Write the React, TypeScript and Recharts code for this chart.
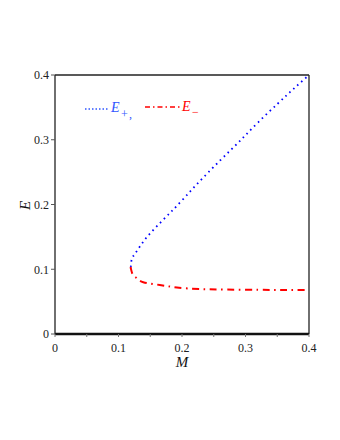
import React from 'react';
import { LineChart, Line, XAxis, YAxis, ReferenceLine } from 'recharts';

// E+ branch (blue dotted), parametric: M values and E values
const ePlusM = [0.119, 0.1197, 0.121, 0.126, 0.135, 0.145, 0.157, 0.169, 0.181, 0.192, 0.209, 0.227, 0.26, 0.291, 0.32, 0.351, 0.375, 0.4];
const ePlusE = [0.1035, 0.1066, 0.116, 0.124, 0.137, 0.15, 0.163, 0.175, 0.187, 0.198, 0.216, 0.235, 0.268, 0.298, 0.327, 0.356, 0.378, 0.4];

// E- branch (red dash-dot)
const eMinusM = [0.119, 0.12, 0.123, 0.129, 0.139, 0.165, 0.192, 0.228, 0.27, 0.32, 0.36, 0.4];
const eMinusE = [0.1035, 0.099, 0.091, 0.086, 0.08, 0.0757, 0.0718, 0.0695, 0.0686, 0.0682, 0.068, 0.068];

const xMajorTicks = [0, 0.1, 0.2, 0.3, 0.4];
const xMinorTicks = [0.05, 0.15, 0.25, 0.35];
const yTicks = [0, 0.1, 0.2, 0.3, 0.4];
const xLabel = 'M';
const yLabel = 'E';
const seriesNames = ['E', '+', 'E', '−'];

const plusData = ePlusM.map((m, i) => ({ M: m, E: ePlusE[i] }));
const minusData = eMinusM.map((m, i) => ({ M: m, E: eMinusE[i] }));
const xTicks = [...xMajorTicks, ...xMinorTicks].sort((a, b) => a - b);

const SERIF = '"Liberation Serif", "DejaVu Serif", serif';
const BLUE = '#0000ff';
const RED = '#ff0000';
const LEG_BLUE = '#2f55ff';

const fmt = (v: number) => (v === 0 ? '0' : String(v));

export default function App() {
  return (
    <div style={{ position: 'absolute', left: 0, top: 0, width: 340, height: 440, background: '#fff' }}>
      <LineChart width={340} height={440} margin={{ top: 75, right: 31, bottom: 76, left: 8 }}>
        <XAxis
          type="number"
          dataKey="M"
          domain={[0, 0.4]}
          ticks={xTicks}
          allowDataOverflow
          height={30}
          tickSize={3}
          tickMargin={6}
          tickFormatter={(v: number) => (xMajorTicks.some((t) => Math.abs(t - v) < 1e-9) ? fmt(v) : '')}
          tick={{ fontFamily: SERIF, fontSize: 12, fill: '#222' }}
          tickLine={{ stroke: '#777', strokeWidth: 1 }}
          axisLine={{ stroke: '#111', strokeWidth: 2.6 }}
          label={{
            content: (props: any) => {
              const vb = props.viewBox || {};
              return (
                <text x={vb.x + vb.width / 2} y={vb.y + 33} textAnchor="middle" fontFamily={SERIF} fontStyle="italic" fontSize={15} fill="#111">
                  {xLabel}
                </text>
              );
            },
          }}
        />
        <YAxis
          type="number"
          domain={[0, 0.4]}
          ticks={yTicks}
          allowDataOverflow
          width={47}
          tickSize={4}
          tickMargin={2}
          tickFormatter={fmt}
          tick={{ fontFamily: SERIF, fontSize: 12, fill: '#222' }}
          tickLine={{ stroke: '#555', strokeWidth: 1 }}
          axisLine={{ stroke: '#222', strokeWidth: 1.3 }}
          label={{
            content: (props: any) => {
              const vb = props.viewBox || {};
              const cx = vb.x + 17;
              const cy = vb.y + vb.height / 2 + 1;
              return (
                <text x={cx} y={cy} transform={`rotate(-90 ${cx} ${cy})`} textAnchor="middle" dominantBaseline="central" fontFamily={SERIF} fontStyle="italic" fontSize={15} fill="#111">
                  {yLabel}
                </text>
              );
            },
          }}
        />
        <ReferenceLine y={0.4} stroke="#222" strokeWidth={1.3} />
        <ReferenceLine x={0.4} stroke="#222" strokeWidth={1.3} />
        <Line
          data={plusData}
          dataKey="E"
          type="natural"
          stroke={BLUE}
          strokeWidth={1.8}
          strokeDasharray="1.6 3.8"
          dot={false}
          isAnimationActive={false}
        />
        <Line
          data={minusData}
          dataKey="E"
          type="natural"
          stroke={RED}
          strokeWidth={2}
          strokeDasharray="7 4.5 1.6 4.5"
          dot={false}
          isAnimationActive={false}
        />
      </LineChart>
      <svg width={340} height={440} style={{ position: 'absolute', left: 0, top: 0, pointerEvents: 'none' }}>
        <line x1={85} y1={109} x2={109} y2={109} stroke={LEG_BLUE} strokeWidth={1.6} strokeDasharray="1.5 2" />
        <text x={111} y={112} fontFamily={SERIF} fontStyle="italic" fontSize={14} fill={LEG_BLUE}>{seriesNames[0]}</text>
        <text x={121} y={118} fontFamily={SERIF} fontSize={12} fill={LEG_BLUE}>{seriesNames[1]}</text>
        <text x={129} y={118} fontFamily={SERIF} fontSize={12} fill={LEG_BLUE}>,</text>
        <line x1={145} y1={107} x2={181} y2={107} stroke={RED} strokeWidth={1.6} strokeDasharray="5 3 1.5 3" />
        <text x={182} y={111} fontFamily={SERIF} fontStyle="italic" fontSize={14} fill={RED}>{seriesNames[2]}</text>
        <text x={192} y={116} fontFamily={SERIF} fontSize={12} fill={RED}>{seriesNames[3]}</text>
      </svg>
    </div>
  );
}
